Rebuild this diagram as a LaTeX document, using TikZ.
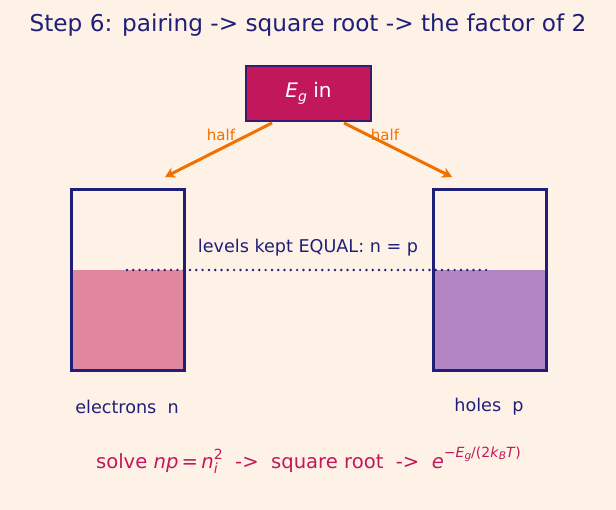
\documentclass[tikz,border=0pt]{standalone}
\usepackage{fontspec}
\setmainfont{DejaVu Sans}
\usetikzlibrary{arrows.meta}
\definecolor{bg}{HTML}{FEF2E7}
\definecolor{navy}{HTML}{1F1F7A}
\definecolor{crim}{HTML}{C2185B}
\definecolor{boxedge}{HTML}{3A1A6E}
\definecolor{orng}{HTML}{F07000}
\definecolor{pinkfill}{HTML}{E0869F}
\definecolor{purpfill}{HTML}{B385C4}
\tikzset{
  txt/.style={inner sep=0pt, anchor=center},
  arr/.style={draw=orng, line width=3pt, -{Stealth[length=10pt,width=11pt]}},
  well/.style={draw=navy, line width=3pt},
}
\begin{document}
\begin{tikzpicture}[x=1pt,y=-1pt]
\fill[bg] (0,0) rectangle (616,510);
\useasboundingbox (0,0) rectangle (616,510);
\node[txt, text=navy, font=\fontsize{23.2}{26}\selectfont] (title) at (308,25) {Step 6: pairing -> square root -> the factor of 2};
\node[draw=boxedge, line width=1.8pt, fill=crim, text=white, minimum width=125pt, minimum height=55pt, inner sep=0pt, font=\fontsize{20}{22}\selectfont] (eg) at (308.5,93.5) {\textit{E}\raisebox{-0.35ex}{\fontsize{14}{14}\selectfont\textit{g}} in};
\coordinate (al) at (272,123);
\coordinate (ar) at (344,123);
\coordinate (tl) at (165,177);
\coordinate (tr) at (452,177);
\draw[arr] (al) -- (tl);
\draw[arr] (ar) -- (tr);
\node[txt, text=orng, font=\fontsize{15}{17}\selectfont] (hl) at (221,135) {half};
\node[txt, text=orng, font=\fontsize{15}{17}\selectfont] (hr) at (385,135) {half};
% wells
\fill[pinkfill] (71,270) rectangle (184,371);
\fill[purpfill] (433,270) rectangle (546,371);
\coordinate (dl) at (127,270);
\coordinate (dr) at (487,270);
\draw[navy, line width=2.7pt, line cap=round, dash pattern=on 0pt off 6.3pt] (dl) -- (dr);
\node[well, minimum width=113pt, minimum height=181pt, inner sep=0pt] (lw) at (127.5,280.5) {};
\node[well, minimum width=113pt, minimum height=181pt, inner sep=0pt] (rw) at (489.5,280.5) {};
\node[txt, text=navy, font=\fontsize{17.6}{19}\selectfont] (lev) at (308,248) {levels kept EQUAL: n = p};
\node[txt, text=navy, font=\fontsize{17.6}{19}\selectfont] (el) at (127,407) {electrons\ \ n};
\node[txt, text=navy, font=\fontsize{17.6}{19}\selectfont] (ho) at (489,407) {holes\ \ p};
\node[txt, text=crim, font=\fontsize{19.6}{22}\selectfont] (form) at (308.5,460) {solve \textit{np}\,=\,\textit{n}\rlap{\raisebox{-0.45ex}{\fontsize{14}{14}\selectfont\textit{i}}}\raisebox{0.85ex}{\fontsize{14}{14}\selectfont 2}\ \ ->\ \ square root\ \ ->\ \ \textit{e}\raisebox{1.05ex}{\fontsize{14}{16}\selectfont −\textit{E}\raisebox{-0.3ex}{\fontsize{10.5}{11}\selectfont\textit{g}}/(2\textit{k}\raisebox{-0.3ex}{\fontsize{10.5}{11}\selectfont\textit{B}}\textit{T})}};
\end{tikzpicture}
\end{document}
